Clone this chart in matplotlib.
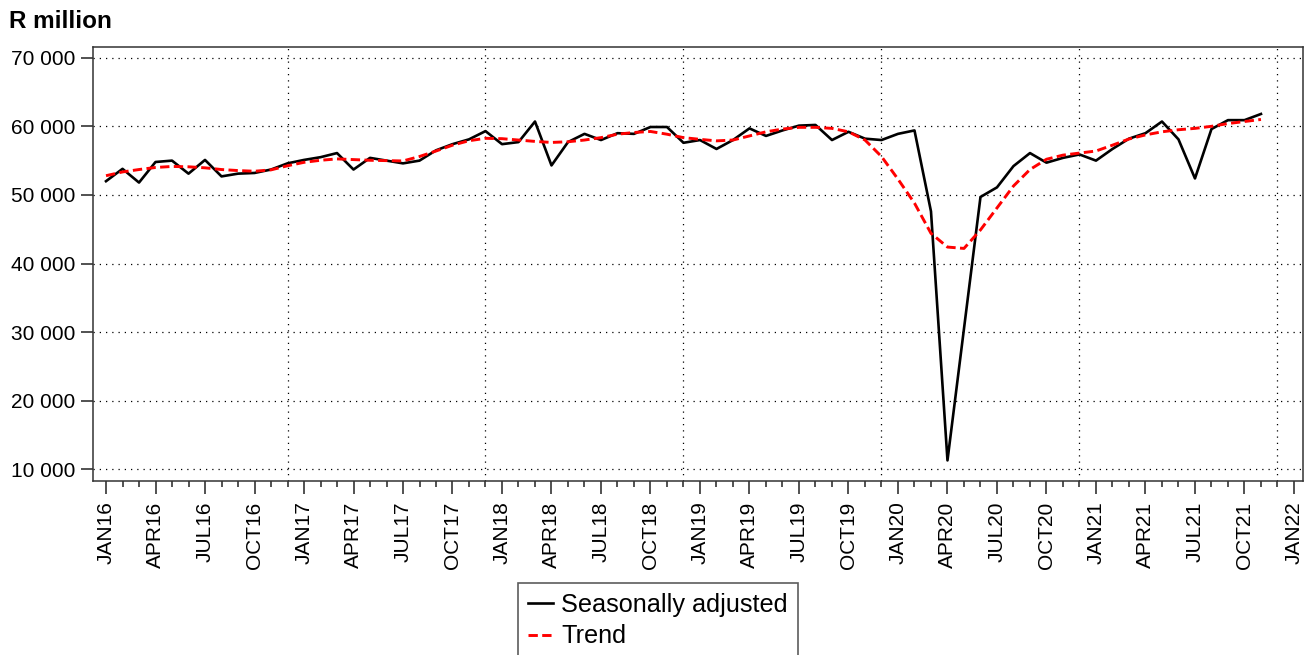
import numpy as np
import pandas as pd
import matplotlib
matplotlib.use('Agg')
import matplotlib.pyplot as plt
from matplotlib.ticker import FuncFormatter, FixedLocator

plt.rcParams['font.family'] = ['Liberation Sans', 'DejaVu Sans']

# monthly data, Jan 2016 .. Nov 2021 (R million)
months = pd.date_range('2016-01-01', '2021-11-01', freq='MS')
seas_adj = [52000, 53800, 51800, 54800, 55000, 53100, 55100, 52700, 53100, 53200, 53700, 54600,
            55100, 55500, 56100, 53700, 55400, 55000, 54600, 55000, 56500, 57400, 58100, 59300,
            57400, 57700, 60700, 54300, 57700, 58900, 58000, 59000, 58900, 59900, 59900, 57600,
            58000, 56700, 58000, 59700, 58600, 59400, 60100, 60200, 58000, 59200, 58200, 58000,
            58900, 59400, 47600, 11300, 30500, 49700, 51100, 54200, 56100, 54700, 55400, 55900,
            55000, 56700, 58200, 59000, 60700, 58100, 52400, 59600, 60900, 60900, 61800]
trend = [52800, 53350, 53700, 54000, 54150, 54100, 53950, 53700, 53550, 53450, 53650, 54250,
         54750, 55050, 55250, 55150, 55050, 55000, 54950, 55600, 56400, 57250, 57900, 58250,
         58200, 58000, 57800, 57650, 57750, 58000, 58350, 58850, 59100, 59250, 58850, 58350,
         58100, 57880, 58000, 58600, 59200, 59600, 59850, 59850, 59700, 59200, 58000, 55600,
         52300, 48800, 44400, 42400, 42200, 44900, 48100, 51300, 53700, 55200, 55800, 56100,
         56400, 57250, 58150, 58750, 59200, 59500, 59700, 60000, 60400, 60700, 61000]

tick_months = pd.date_range('2016-01-01', '2022-01-01', freq='3MS')
tick_labels = [d.strftime('%b%y').upper() for d in tick_months]
grid_months = pd.date_range('2016-12-01', '2021-12-01', freq='12MS')
yticks = [10000, 20000, 30000, 40000, 50000, 60000, 70000]

pos = lambda d: (d.year - 2016) * 12 + d.month - 1
x = np.array([pos(d) for d in months])

fig = plt.figure(figsize=(13.05, 6.55), dpi=100)
ax = fig.add_axes([0.0715, 0.2661, 0.927, 0.6617])

ax.plot(x, seas_adj, color='black', lw=1.9, label='Seasonally adjusted', zorder=3)
ax.plot(x, trend, color='red', lw=2.1, ls='--', dashes=(3.2, 1.5), label='Trend', zorder=4)

for v in yticks:
    ax.axhline(v, color='black', lw=0.9, ls=(0, (1, 4)), zorder=1)
for d in grid_months:
    ax.axvline(pos(d), color='black', lw=0.9, ls=(0, (1, 4)), zorder=1)

ax.set_xlim(-0.77, 72.55)
ax.set_ylim(8340, 71520)
ax.yaxis.set_major_locator(FixedLocator(yticks))
ax.yaxis.set_major_formatter(FuncFormatter(lambda v, p: f'{int(v):,}'.replace(',', ' ')))
ax.set_xticks([pos(d) for d in tick_months])
ax.set_xticklabels(tick_labels, rotation=90)
ax.set_xticks(np.arange(0, 73), minor=True)

ax.tick_params(axis='y', direction='out', length=9, width=1.2, labelsize=15, pad=4, color='#333333')
ax.tick_params(axis='x', which='major', direction='out', length=9, width=1.2, labelsize=15, pad=6, color='#333333')
ax.tick_params(axis='x', which='minor', direction='out', length=4.5, width=1.2, color='#333333')
for s in ax.spines.values():
    s.set_color('#333333')
    s.set_linewidth(1.1)

fig.text(9 / 1305, 1 - 27.5 / 655, 'R million', fontsize=17.5, fontweight='bold', ha='left', va='baseline')

leg = fig.legend(loc='upper left', bbox_to_anchor=(518 / 1305, 1 - 582.7 / 655), bbox_transform=fig.transFigure,
                 fontsize=18.2, frameon=True, fancybox=False, borderaxespad=0, handlelength=1.0,
                 handletextpad=0.3, borderpad=0.4, labelspacing=0.3)
leg.get_frame().set_edgecolor('#333333')
leg.get_frame().set_linewidth(1.2)

fig.savefig('out.png', dpi=100)
